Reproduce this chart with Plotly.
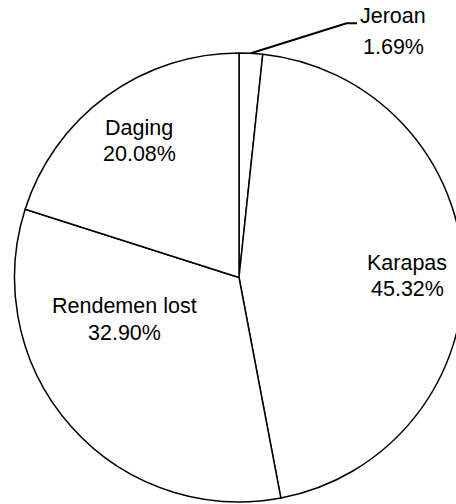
import math
import plotly.graph_objects as go

labels = ["Jeroan", "Karapas", "Rendemen lost", "Daging"]
values = [1.69, 45.32, 32.90, 20.08]
pct_text = ["1.69%", "45.32%", "32.90%", "20.08%"]

W, H = 470, 504
ML, MR, MT, MB = 14, 6, 53, 2
PW, PH = W - ML - MR, H - MT - MB

FONT = "Liberation Sans, Arial, sans-serif"
FS = 21.5


def px2paper(x, y):
    return (x - ML) / PW, (H - MB - y) / PH


fig = go.Figure(
    go.Pie(
        labels=labels,
        values=values,
        sort=False,
        direction="clockwise",
        rotation=0,
        textinfo="none",
        hoverinfo="label+percent",
        marker=dict(colors=["white"] * len(values), line=dict(color="black", width=1.5)),
        showlegend=False,
        domain=dict(x=[0, 1], y=[0, 1]),
    )
)

# label positions (pixel centres of each text line), as placed in the original
label_pos = [(393, 16, 46.5), (407, 262.5, 288.5), (124, 306, 333), (139, 128, 154)]
annotations = []
for name, pct, (x, y1, y2) in zip(labels, pct_text, label_pos):
    for txt, yy in ((name, y1), (pct, y2)):
        xp, yp = px2paper(x, yy)
        annotations.append(dict(
            text=txt, x=xp, y=yp, xref="paper", yref="paper",
            xanchor="center", yanchor="middle", showarrow=False,
            font=dict(family=FONT, size=FS, color="black"),
        ))

# leader line for the small "Jeroan" slice, from the slice's mid-angle on the rim
cx, cy, r = ML + PW / 2, MT + PH / 2, min(PW, PH) / 2
mid = 2 * math.pi * (values[0] / 2) / sum(values)
sx, sy = cx + r * math.sin(mid), cy - r * math.cos(mid)
p0 = px2paper(sx, sy)
p1 = px2paper(346.5, 23.3)
p2 = px2paper(357, 23.3)
shapes = [dict(
    type="path", xref="paper", yref="paper",
    path=f"M {p0[0]} {p0[1]} L {p1[0]} {p1[1]} L {p2[0]} {p2[1]}",
    line=dict(color="black", width=2),
)]

fig.update_layout(
    width=W, height=H,
    margin=dict(l=ML, r=MR, t=MT, b=MB, pad=0),
    paper_bgcolor="white", plot_bgcolor="white",
    annotations=annotations, shapes=shapes,
)

fig.write_html(
    "out.html",
    config={"displayModeBar": False},
    post_script="document.body.style.margin='0';document.body.style.overflow='hidden';",
)
